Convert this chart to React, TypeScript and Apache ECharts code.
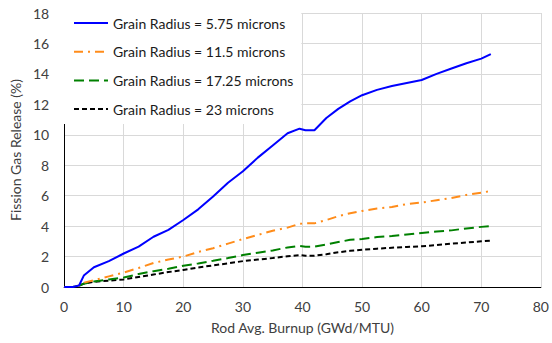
import React, { useEffect, useRef } from "react";
import * as echarts from "echarts";

const burnup = [0, 1.5, 2.5, 3.3, 5, 7.5, 10, 12.5, 15, 17.5, 20, 22.5, 25, 27.5, 30, 32.5, 35, 37.5, 39.5, 40.5, 42, 44, 46, 48, 50, 52.5, 55, 57.5, 60, 62.5, 65, 67.5, 70, 71.6];

const fgr575 = [0, 0, 0.1, 0.75, 1.3, 1.7, 2.2, 2.65, 3.3, 3.75, 4.4, 5.1, 5.95, 6.85, 7.6, 8.5, 9.3, 10.1, 10.4, 10.3, 10.3, 11.1, 11.7, 12.2, 12.6, 12.95, 13.2, 13.4, 13.6, 14.0, 14.35, 14.7, 15.0, 15.3];
const fgr115 = [0, 0, 0.1, 0.28, 0.45, 0.7, 0.95, 1.25, 1.58, 1.8, 2.0, 2.3, 2.55, 2.85, 3.15, 3.42, 3.7, 3.9, 4.15, 4.18, 4.18, 4.4, 4.65, 4.85, 5.0, 5.15, 5.25, 5.45, 5.55, 5.7, 5.85, 6.05, 6.2, 6.3];
const fgr1725 = [0, 0, 0.08, 0.22, 0.36, 0.5, 0.62, 0.85, 1.04, 1.2, 1.4, 1.55, 1.72, 1.9, 2.1, 2.25, 2.4, 2.6, 2.7, 2.65, 2.65, 2.8, 2.95, 3.1, 3.15, 3.28, 3.35, 3.45, 3.55, 3.65, 3.72, 3.85, 3.95, 4.0];
const fgr23 = [0, 0, 0.08, 0.22, 0.34, 0.42, 0.5, 0.66, 0.82, 0.98, 1.12, 1.28, 1.42, 1.55, 1.7, 1.8, 1.9, 2.02, 2.1, 2.06, 2.06, 2.15, 2.28, 2.38, 2.45, 2.52, 2.58, 2.63, 2.68, 2.75, 2.85, 2.92, 3.0, 3.05];

const seriesNames = [
  "Grain Radius = 5.75 microns",
  "Grain Radius = 11.5 microns",
  "Grain Radius = 17.25 microns",
  "Grain Radius = 23 microns",
];
const seriesValues = [fgr575, fgr115, fgr1725, fgr23];
const seriesColors = ["#0000ff", "#ff8c1a", "#008000", "#000000"];
const seriesDash: any[] = ["solid", [9, 5, 2, 5], [10, 5], [5, 3]];

const FONT = "Lato, 'Open Sans', sans-serif";

export default function App() {
  const ref = useRef<HTMLDivElement>(null);
  useEffect(() => {
    if (!ref.current) return;
    document.body.style.margin = "0";
    const chart = echarts.init(ref.current, undefined, { renderer: "svg" });
    chart.setOption({
      animation: false,
      backgroundColor: "#ffffff",
      textStyle: { fontFamily: FONT },
      grid: { left: 58, right: 9, top: 13, bottom: 56, containLabel: false },
      legend: {
        orient: "vertical",
        left: 64,
        top: 8,
        padding: [8, 8, 8, 9],
        itemWidth: 34,
        itemHeight: 14,
        itemGap: 14.7,
        backgroundColor: "#ffffff",
        itemStyle: { opacity: 0, color: "rgba(0,0,0,0)", borderWidth: 0 },
        textStyle: { fontFamily: FONT, fontSize: 14, lineHeight: 14, color: "#1a1a1a" },
        data: seriesNames,
      },
      xAxis: {
        type: "value",
        min: 0,
        max: 80,
        interval: 10,
        name: "Rod Avg. Burnup (GWd/MTU)",
        nameLocation: "middle",
        nameGap: 33,
        nameTextStyle: { fontFamily: FONT, fontSize: 14, color: "#404040" },
        axisLine: { show: true, onZero: false, lineStyle: { color: "#000", width: 1 } },
        axisTick: { show: false },
        axisLabel: { fontFamily: FONT, fontSize: 14, color: "#404040", margin: 12 },
        splitLine: { show: true, lineStyle: { color: "#d9d9d9", width: 1 } },
      },
      yAxis: {
        type: "value",
        min: 0,
        max: 18,
        interval: 2,
        name: "Fission Gas Release (%)",
        nameLocation: "middle",
        nameGap: 36,
        nameTextStyle: { fontFamily: FONT, fontSize: 14, color: "#404040" },
        axisLine: { show: true, lineStyle: { color: "#000", width: 1 } },
        axisTick: { show: false },
        axisLabel: { fontFamily: FONT, fontSize: 14, color: "#404040", margin: 15 },
        splitLine: { show: true, lineStyle: { color: "#d9d9d9", width: 1 } },
      },
      series: seriesNames.map((name, i) => ({
        name,
        type: "line",
        showSymbol: false,
        symbol: "none",
        smooth: false,
        data: burnup.map((x, j) => [x, seriesValues[i][j]]),
        lineStyle: { color: seriesColors[i], width: 2, type: seriesDash[i] },
        itemStyle: { color: seriesColors[i] },
        z: 4 - i,
      })),
    });
    return () => chart.dispose();
  }, []);
  return <div ref={ref} style={{ width: 552, height: 343 }} />;
}
